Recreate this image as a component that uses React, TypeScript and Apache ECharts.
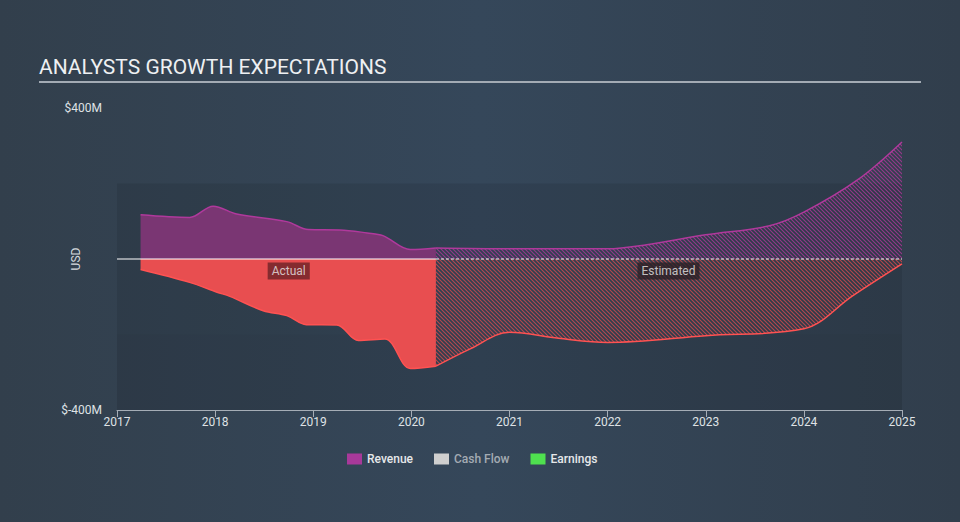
import React, { useEffect, useRef } from "react";
import * as echarts from "echarts";

const yearTicks = [2017, 2018, 2019, 2020, 2021, 2022, 2023, 2024, 2025];

const revenueActualYears = [2017.24, 2017.74, 2017.98, 2018.22, 2018.73, 2018.95, 2019.27, 2019.55, 2019.71, 2019.99, 2020.25];
const revenueActual = [117, 110, 140, 119, 99, 78, 77, 69, 62, 25, 29];

const revenueEstYears = [2020.25, 2021.0, 2022.0, 2022.4, 2023.0, 2023.65, 2024.0, 2024.55, 2025.0];
const revenueEst = [29, 27, 27, 38, 64, 88, 124, 210, 310];

const earningsActualYears = [2017.24, 2017.74, 2018.02, 2018.15, 2018.49, 2018.73, 2018.93, 2019.24, 2019.46, 2019.73, 2019.99, 2020.25];
const earningsActual = [-28, -62, -88, -99, -137, -150, -174, -175, -216, -212, -290, -284];

const earningsEstYears = [2020.25, 2020.6, 2021.0, 2021.5, 2022.0, 2023.0, 2024.0, 2024.5, 2025.0];
const earningsEst = [-284, -238, -194, -210, -221, -203, -185, -97, -13];

const labelPoints = [
  { name: "Actual", year: 2018.75, value: -32, bg: "#6b2327" },
  { name: "Estimated", year: 2022.62, value: -32, bg: "#2b2127" },
];

const zip = (xs: number[], ys: number[]) => xs.map((x, i) => [x, ys[i]]);

function makePattern(color: string) {
  const c = document.createElement("canvas");
  const s = 4;
  c.width = s;
  c.height = s;
  const ctx = c.getContext("2d")!;
  ctx.strokeStyle = color;
  ctx.lineWidth = 1.1;
  ctx.beginPath();
  ctx.moveTo(-1, -1);
  ctx.lineTo(s + 1, s + 1);
  ctx.moveTo(-1, s - 1);
  ctx.lineTo(1, s + 1);
  ctx.moveTo(s - 1, -1);
  ctx.lineTo(s + 1, 1);
  ctx.stroke();
  return c;
}

export default function App() {
  const ref = useRef<HTMLDivElement>(null);
  useEffect(() => {
    if (!ref.current) return;
    const chart = echarts.init(ref.current, undefined, { renderer: "svg" });
    const purple = "#b0399c";
    const red = "#f24d4f";
    const font = "Roboto";
    chart.setOption({
      animation: false,
      backgroundColor: "transparent",
      title: {
        text: "ANALYSTS GROWTH EXPECTATIONS",
        left: 34,
        top: 51,
        textStyle: { fontSize: 21, fontWeight: "normal", color: "#eef0f2", fontFamily: font },
      },
      graphic: [
        {
          type: "line",
          shape: { x1: 39, y1: 82, x2: 921, y2: 82 },
          style: { stroke: "#a3abb4", lineWidth: 2 },
        },
      ],
      grid: { left: 117, right: 58, top: 108, bottom: 112 },
      legend: {
        bottom: 52,
        left: 342,
        itemWidth: 15,
        itemHeight: 11,
        itemGap: 21,
        selectedMode: false,
        textStyle: { color: "#e6e8ea", fontSize: 12, fontFamily: font, fontWeight: 500 },
        data: [
          { name: "Revenue", icon: "rect", itemStyle: { color: "#a8399a" } },
          { name: "Cash Flow", icon: "rect", itemStyle: { color: "#cfcfcf" }, textStyle: { color: "#a4abb3" } },
          { name: "Earnings", icon: "rect", itemStyle: { color: "#4fe04f" } },
        ],
      },
      xAxis: {
        type: "value",
        min: 2017,
        max: 2025,
        interval: 1,
        axisLine: { show: true, onZero: false, lineStyle: { color: "#a5adb6", width: 1 } },
        axisTick: { show: true, length: 7, lineStyle: { color: "#a5adb6" } },
        axisLabel: {
          color: "#dfe2e5",
          fontSize: 12,
          fontFamily: font,
          margin: 6,
          formatter: (v: number) => (yearTicks.includes(v) ? String(v) : ""),
        },
        splitLine: { show: false },
      },
      yAxis: {
        type: "value",
        min: -400,
        max: 400,
        interval: 400,
        name: "USD",
        nameLocation: "middle",
        nameGap: 35,
        nameMoveOverlap: false,
        nameRotate: 90,
        nameTextStyle: { color: "#d5d9dd", fontSize: 12, fontFamily: font },
        axisLine: { show: false, onZero: false },
        axisTick: { show: false },
        splitLine: { show: false },
        axisLabel: {
          color: "#dfe2e5",
          fontSize: 12,
          fontFamily: font,
          margin: 15,
          formatter: (v: number) => (v === 0 ? "" : `$${v}M`),
        },
      },
      series: [
        {
          name: "bands",
          type: "line",
          z: 0,
          data: [[2017, 0]],
          symbol: "none",
          lineStyle: { width: 0 },
          silent: true,
          markArea: {
            silent: true,
            data: [
              [{ yAxis: 200, itemStyle: { color: "rgba(0,0,0,0.085)" } }, { yAxis: -200 }],
              [{ yAxis: -200, itemStyle: { color: "rgba(0,0,0,0.11)" } }, { yAxis: -400 }],
            ],
          },
        },
        {
          name: "Cash Flow",
          type: "line",
          data: [],
          itemStyle: { color: "#cfcfcf" },
        },
        {
          name: "Revenue",
          type: "line",
          z: 2,
          data: zip(revenueActualYears, revenueActual),
          smooth: 0.35,
          symbol: "none",
          itemStyle: { color: purple },
          lineStyle: { color: purple, width: 1.5 },
          areaStyle: { color: "#7a3673", opacity: 1, origin: 0 },
        },
        {
          name: "Revenue",
          type: "line",
          z: 2,
          data: zip(revenueEstYears, revenueEst),
          smooth: 0.35,
          symbol: "none",
          itemStyle: { color: purple },
          lineStyle: { color: purple, width: 1.5 },
          areaStyle: { color: { image: makePattern("rgba(160,55,145,0.9)"), repeat: "repeat" }, opacity: 1, origin: 0 },
        },
        {
          name: "Earnings",
          type: "line",
          z: 2,
          data: zip(earningsActualYears, earningsActual),
          smooth: 0.35,
          symbol: "none",
          itemStyle: { color: red },
          lineStyle: { color: "#ff5252", width: 1.5 },
          areaStyle: { color: "#e84e50", opacity: 1, origin: 0 },
        },
        {
          name: "Earnings",
          type: "line",
          z: 2,
          data: zip(earningsEstYears, earningsEst),
          smooth: 0.35,
          symbol: "none",
          itemStyle: { color: red },
          lineStyle: { color: "#ff5252", width: 1.5 },
          areaStyle: { color: { image: makePattern("rgba(214,74,78,0.8)"), repeat: "repeat" }, opacity: 1, origin: 0 },
        },
        {
          name: "zeroActual",
          type: "line",
          z: 4,
          data: [[2017, 0], [2020.25, 0]],
          symbol: "none",
          silent: true,
          lineStyle: { color: "#ffffff", width: 1.2 },
        },
        {
          name: "zeroEst",
          type: "line",
          z: 4,
          data: [[2020.25, 0], [2025, 0]],
          symbol: "none",
          silent: true,
          lineStyle: { color: "#ffffff", width: 1, type: [3, 2] },
        },
        {
          name: "phase",
          type: "scatter",
          z: 5,
          symbolSize: 0,
          silent: true,
          data: labelPoints.map((p) => ({
            value: [p.year, p.value],
            label: {
              show: true,
              position: "inside",
              formatter: p.name,
              color: "#e8e8e8",
              fontSize: 12,
              fontFamily: font,
              backgroundColor: p.bg,
              padding: [3, 4, 2, 4],
            },
          })),
        },
      ],
    });
    return () => chart.dispose();
  }, []);
  return (
    <div
      style={{
        position: "fixed",
        left: 0,
        top: 0,
        width: 960,
        height: 522,
        background: "linear-gradient(90deg, #323f4c 0%, #35475a 50%, #313e4c 100%)",
      }}
    >
      <div ref={ref} style={{ width: 960, height: 522 }} />
    </div>
  );
}
